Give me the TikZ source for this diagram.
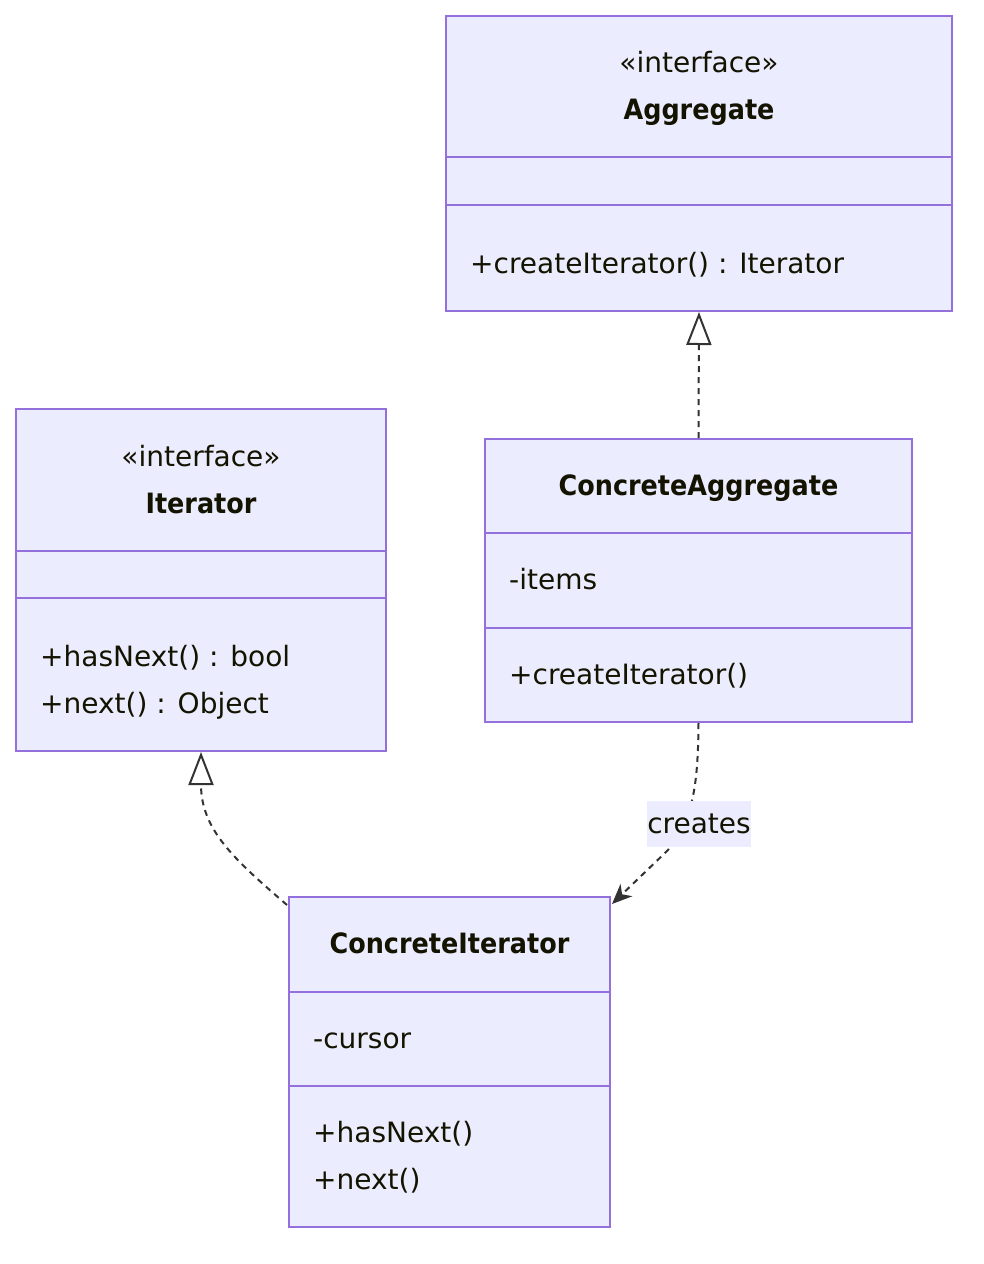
\documentclass[tikz,border=0pt]{standalone}
\usepackage{fontspec}
\setmainfont{DejaVu Sans}
\newfontfamily\titlefont{DejaVu Sans}[FakeStretch=0.91]
\usetikzlibrary{arrows.meta}
\definecolor{boxfill}{HTML}{ECECFF}
\definecolor{boxline}{HTML}{9370DB}
\definecolor{edgeline}{HTML}{333333}
\definecolor{txt}{HTML}{131300}
\tikzset{
  box/.style={draw=boxline, fill=boxfill, line width=2pt, inner sep=0pt},
  divider/.style={draw=boxline, line width=2pt},
  member/.style={anchor=base west, inner sep=0pt, text=txt, font=\fontsize{28}{32}\selectfont},
  ctitle/.style={anchor=base, inner sep=0pt, text=txt, font=\titlefont\fontsize{28}{32}\selectfont\bfseries},
  stereo/.style={anchor=base, inner sep=0pt, text=txt, font=\fontsize{28}{32}\selectfont},
  dep/.style={draw=edgeline, line width=2pt, dash pattern=on 6pt off 5pt},
  elabel/.style={fill=boxfill, inner sep=0pt, minimum width=104pt, minimum height=46pt, text=txt, font=\fontsize{28}{32}\selectfont},
}
\begin{document}
\begin{tikzpicture}[x=1pt,y=-1pt]
\useasboundingbox (0,0) rectangle (984,1264);
% Aggregate
\node[box, minimum width=506pt, minimum height=295pt] (agg) at (699,163.5) {};
\draw[divider] (446,157) -- (952,157);
\draw[divider] (446,205) -- (952,205);
\node[stereo] (aggS) at (699,72) {«interface»};
\node[ctitle] (aggT) at (699,119) {Aggregate};
\node[member] (aggM1) at (470,273) {+createIterator() : Iterator};
% Iterator
\node[box, minimum width=370pt, minimum height=342pt] (iter) at (201,580) {};
\draw[divider] (16,551) -- (386,551);
\draw[divider] (16,598) -- (386,598);
\node[stereo] (iterS) at (201,466) {«interface»};
\node[ctitle] (iterT) at (201,513) {Iterator};
\node[member] (iterM1) at (40,666) {+hasNext() : bool};
\node[member] (iterM2) at (40,713) {+next() : Object};
% ConcreteAggregate
\node[box, minimum width=427pt, minimum height=283pt] (cagg) at (698.5,580.5) {};
\draw[divider] (485,533) -- (912,533);
\draw[divider] (485,628) -- (912,628);
\node[ctitle] (caggT) at (698.5,495) {ConcreteAggregate};
\node[member] (caggA1) at (509,589) {-items};
\node[member] (caggM1) at (509,684) {+createIterator()};
% ConcreteIterator
\node[box, minimum width=321pt, minimum height=330pt] (citer) at (449.5,1062) {};
\draw[divider] (289,992) -- (610,992);
\draw[divider] (289,1086) -- (610,1086);
\node[ctitle] (citerT) at (449.5,953) {ConcreteIterator};
\node[member] (citerA1) at (313,1048) {-cursor};
\node[member] (citerM1) at (313,1142) {+hasNext()};
\node[member] (citerM2) at (313,1189) {+next()};
% connectors
\coordinate (ciL) at (287,905);
\coordinate (ciR) at (612,904);
\draw[dep, -{Triangle[open, length=33pt, width=25pt, line width=2pt, sep=0pt]}] (cagg.north) -- (agg.south);
\draw[dep, -{Triangle[open, length=33pt, width=25pt, line width=2pt]}] (ciL) .. controls (235,860) and (201,830) .. (iter.south);
\draw[dep, -{Stealth[length=20pt, width=17pt, inset=6pt]}] (cagg.south) .. controls (698,790) and (692,820) .. (668,850) -- (ciR);
\node[elabel] (lbl) at (699,824) {creates};
\end{tikzpicture}
\end{document}
